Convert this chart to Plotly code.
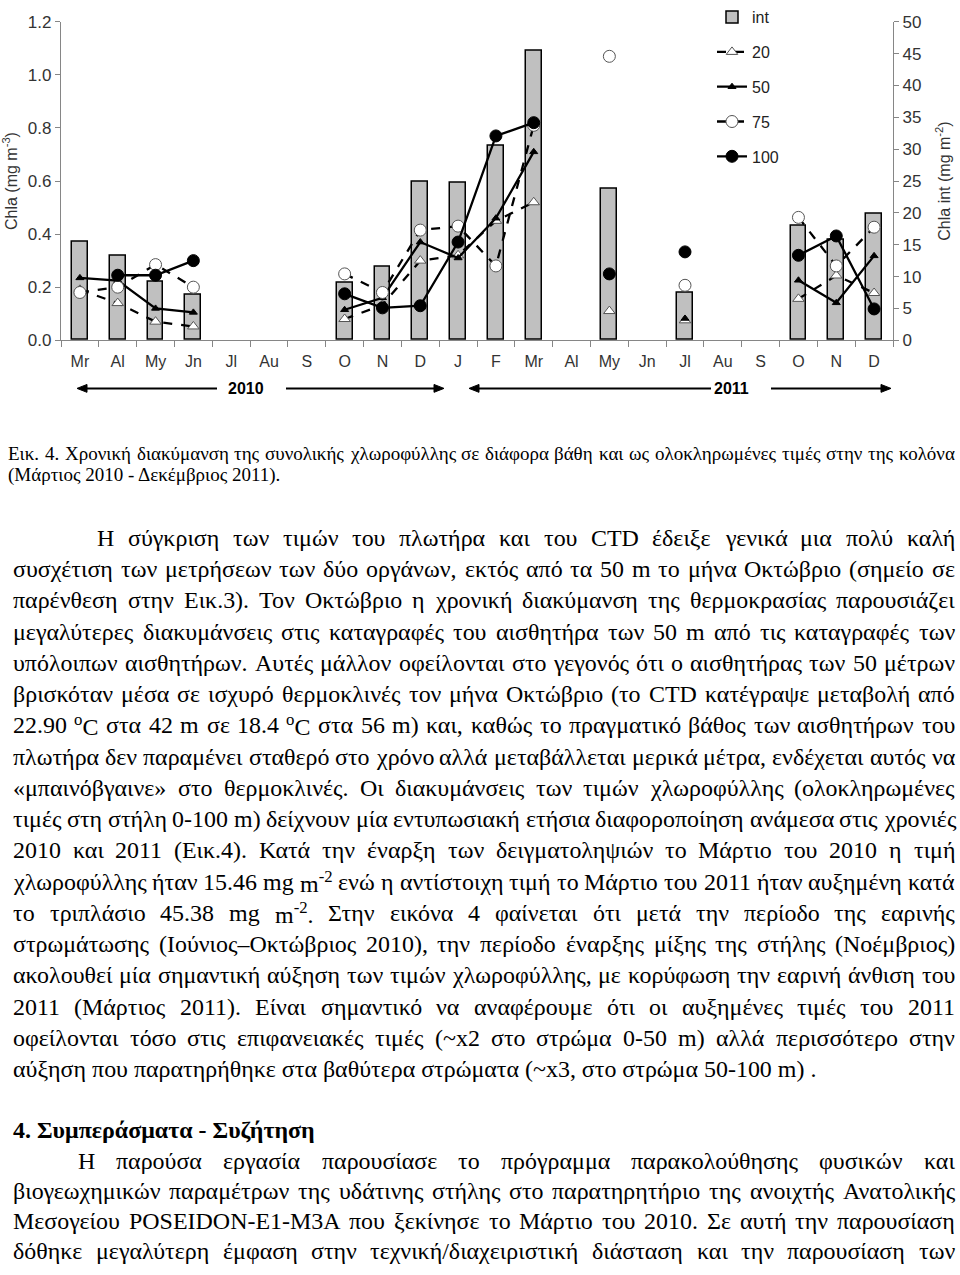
import glob
import re
import plotly.graph_objects as go

# ---------------- data ----------------
months = ["Mr", "Al", "My", "Jn", "Jl", "Au", "S", "O", "N", "D", "J", "F",
          "Mr", "Al", "My", "Jn", "Jl", "Au", "S", "O", "N", "D"]
# integrated chlorophyll (mg m-2), right axis
chla_int = [15.46, 13.3, 9.1, 7.1, None, None, None, 9.0, 11.6, 24.8, 24.7, 30.6,
            45.38, None, 23.8, None, 7.4, None, None, 17.9, 15.7, 19.9]
# chlorophyll at depth (mg m-3), left axis
chla_20 = [0.19, 0.14, 0.07, 0.052, None, None, None, 0.08, 0.133, 0.30, 0.32, 0.45,
           0.52, None, 0.11, None, 0.075, None, None, 0.156, 0.244, 0.178]
chla_50 = [0.235, 0.225, 0.12, 0.105, None, None, None, 0.115, 0.16, 0.37, 0.31, 0.46,
           0.71, None, 0.25, None, 0.082, None, None, 0.226, 0.141, 0.318]
chla_75 = [0.18, 0.20, 0.285, 0.20, None, None, None, 0.25, 0.18, 0.415, 0.43, 0.28,
           0.81, None, 1.07, None, 0.207, None, None, 0.463, 0.28, 0.426]
chla_100 = [None, 0.245, 0.245, 0.30, None, None, None, 0.175, 0.122, 0.13, 0.37, 0.77,
            0.82, None, 0.25, None, 0.333, None, None, 0.32, 0.393, 0.118]
series_names = ["20", "50", "75", "100"]
series_values = [chla_20, chla_50, chla_75, chla_100]
years = ["2010", "2011"]

caption_lines = [
    "Εικ. 4. Χρονική διακύμανση της συνολικής χλωροφύλλης σε διάφορα βάθη και ως ολοκληρωμένες τιμές στην της κολόνα",
    "(Μάρτιος 2010 - Δεκέμβριος 2011).",
]
para1_lines = [
    "Η σύγκριση των τιμών του πλωτήρα και του CTD έδειξε γενικά μια πολύ καλή",
    "συσχέτιση των μετρήσεων των δύο οργάνων, εκτός από τα 50 m το μήνα Οκτώβριο (σημείο σε",
    "παρένθεση στην Εικ.3). Τον Οκτώβριο η χρονική διακύμανση της θερμοκρασίας παρουσιάζει",
    "μεγαλύτερες διακυμάνσεις στις καταγραφές του αισθητήρα των 50 m από τις καταγραφές των",
    "υπόλοιπων αισθητήρων. Αυτές μάλλον οφείλονται στο γεγονός ότι ο αισθητήρας των 50 μέτρων",
    "βρισκόταν μέσα σε ισχυρό θερμοκλινές τον μήνα Οκτώβριο (το CTD κατέγραψε μεταβολή από",
    "22.90 <sup>o</sup>C στα 42 m σε 18.4 <sup>o</sup>C στα 56 m) και, καθώς το πραγματικό βάθος των αισθητήρων του",
    "πλωτήρα δεν παραμένει σταθερό στο χρόνο αλλά μεταβάλλεται μερικά μέτρα, ενδέχεται αυτός να",
    "«μπαινόβγαινε» στο θερμοκλινές. Οι διακυμάνσεις των τιμών χλωροφύλλης (ολοκληρωμένες",
    "τιμές στη στήλη 0-100 m) δείχνουν μία εντυπωσιακή ετήσια διαφοροποίηση ανάμεσα στις χρονιές",
    "2010 και 2011 (Εικ.4). Κατά την έναρξη των δειγματοληψιών το Μάρτιο του 2010 η τιμή",
    "χλωροφύλλης ήταν 15.46 mg m<sup>-2</sup> ενώ η αντίστοιχη τιμή το Μάρτιο του 2011 ήταν αυξημένη κατά",
    "το τριπλάσιο 45.38 mg m<sup>-2</sup>. Στην εικόνα 4 φαίνεται ότι μετά την περίοδο της εαρινής",
    "στρωμάτωσης (Ιούνιος–Οκτώβριος 2010), την περίοδο έναρξης μίξης της στήλης (Νοέμβριος)",
    "ακολουθεί μία σημαντική αύξηση των τιμών χλωροφύλλης, με κορύφωση την εαρινή άνθιση του",
    "2011 (Μάρτιος 2011). Είναι σημαντικό να αναφέρουμε ότι οι αυξημένες τιμές του 2011",
    "οφείλονται τόσο στις επιφανειακές τιμές (~x2 στο στρώμα 0-50 m) αλλά περισσότερο στην",
    "αύξηση που παρατηρήθηκε στα βαθύτερα στρώματα (~x3, στο στρώμα 50-100 m) .",
]
heading = "4. Συμπεράσματα - Συζήτηση"
para2_lines = [
    "Η παρούσα εργασία παρουσίασε το πρόγραμμα παρακολούθησης φυσικών και",
    "βιογεωχημικών παραμέτρων της υδάτινης στήλης στο παρατηρητήριο της ανοιχτής Ανατολικής",
    "Μεσογείου POSEIDON-E1-M3A που ξεκίνησε το Μάρτιο του 2010. Σε αυτή την παρουσίαση",
    "δόθηκε μεγαλύτερη έμφαση στην τεχνική/διαχειριστική διάσταση και την παρουσίαση των",
]

# ---------------- layout helpers ----------------
W, H = 960, 1275


def px(x):
    return x / W


def py(y):
    return 1 - y / H


styles = {
    "20": dict(dash="dash", symbol="triangle-up", fill="white", size=10),
    "50": dict(dash="solid", symbol="triangle-up", fill="black", size=7),
    "75": dict(dash="dash", symbol="circle", fill="white", size=12),
    "100": dict(dash="solid", symbol="circle", fill="black", size=12),
}

AXC = "#868686"
TXC = "#333333"
SANS = "Liberation Sans, Arial, sans-serif"
SERIF = "Liberation Serif, Times New Roman, serif"

fig = go.Figure()
xs = list(range(len(months)))
fig.add_trace(go.Bar(
    x=xs, y=chla_int, name="int", yaxis="y", width=0.42, legendgroup="int",
    marker=dict(color="#c0c0c0", line=dict(color="black", width=1.5)),
))
for name, vals in zip(series_names, series_values):
    st = styles[name]
    fig.add_trace(go.Scatter(
        x=xs, y=vals, name=name, yaxis="y2", mode="lines+markers",
        legendgroup=name, connectgaps=False,
        line=dict(color="black", width=2.3, dash=st["dash"]),
        marker=dict(symbol=st["symbol"], size=st["size"], color=st["fill"],
                    line=dict(color="black" if st["fill"] == "black" else "#555", width=1)),
    ))

# ---------------- text measuring ----------------
def find_font(fname):
    for p in glob.glob("/usr/share/fonts/**/" + fname, recursive=True):
        return p
    return None


SERIF_R = find_font("LiberationSerif-Regular.ttf")
SERIF_B = find_font("LiberationSerif-Bold.ttf")

_base = None
try:
    from PIL import ImageFont
    _fr = ImageFont.truetype(SERIF_R, 100)
    _fb = ImageFont.truetype(SERIF_B, 100)

    def _base(s, bold):
        return (_fb if bold else _fr).getlength(s) / 100.0
except Exception:
    try:
        from fontTools.ttLib import TTFont

        def _mk(path):
            tt = TTFont(path)
            cmap = tt.getBestCmap()
            hm = tt["hmtx"]
            upm = tt["head"].unitsPerEm

            def f(s):
                tot = 0
                for c in s:
                    g = cmap.get(ord(c), ".notdef")
                    tot += hm[g][0]
                return tot / upm
            return f
        _fr2 = _mk(SERIF_R)
        _fb2 = _mk(SERIF_B)

        def _base(s, bold):
            return (_fb2 if bold else _fr2)(s)
    except Exception:
        _base = None


def measure(s, size, bold=False):
    parts = re.split(r"(<sup>.*?</sup>)", s)
    tot = 0.0
    for p in parts:
        if p.startswith("<sup>"):
            tot += _base(p[5:-6], bold) * size * 0.7
        elif p:
            tot += _base(p, bold) * size
    return tot


annotations = []


def add_line(text, y, left, right, size, justify=True, bold=False):
    words = text.split(" ")
    wrapf = (lambda t: "<b>" + t + "</b>") if bold else (lambda t: t)
    common = dict(xref="paper", yref="paper", xanchor="left", yanchor="middle",
                  showarrow=False, borderpad=0, borderwidth=0,
                  font=dict(family=SERIF, size=size, color="black"))
    if _base is None or not justify or len(words) < 2:
        annotations.append(dict(text=wrapf(text), x=px(left), y=py(y), **common))
        return
    widths = [measure(w, size, bold) for w in words]
    gap = (right - left - sum(widths)) / (len(words) - 1)
    pos = left
    for w, wd in zip(words, widths):
        annotations.append(dict(text=wrapf(w), x=px(pos), y=py(y), **common))
        pos += wd + gap


# paragraph font size from the natural width of the last (unjustified) line
if _base is not None:
    PSIZE = 804 / measure(para1_lines[-1], 1.0)
    CSIZE = min(19.0, 940 / measure(caption_lines[0], 1.0))
else:
    PSIZE = 22
    CSIZE = 18

LEFT, RIGHT = 13, 955
add_line(caption_lines[0], 449, 8, 955, CSIZE, justify=True)
add_line(caption_lines[1], 471, 8, 955, CSIZE, justify=False)

p1_y = [535 + i * 31.8 for i in range(len(para1_lines))]
for i, (t, y) in enumerate(zip(para1_lines, p1_y)):
    last = i == len(para1_lines) - 1
    add_line(t, y, 97 if i == 0 else LEFT, RIGHT, PSIZE, justify=not last)

add_line(heading, 1138, LEFT, RIGHT, PSIZE, justify=False, bold=True)
p2_y = [1169 + i * 30.7 for i in range(len(para2_lines))]
for i, (t, y) in enumerate(zip(para2_lines, p2_y)):
    add_line(t, y, 78 if i == 0 else LEFT, RIGHT, PSIZE, justify=True)

# year labels with arrows (arrows drawn as decorative shapes)
YR = 383
for label, xc in zip(years, [246, 731]):
    annotations.append(dict(text="<b>" + label + "</b>", x=px(xc), y=py(YR), xref="paper", yref="paper",
                            xanchor="center", yanchor="middle", showarrow=False,
                            font=dict(family=SANS, size=16, color="black")))
shapes = []
for head, tail in [(77, 217), (444, 286), (469, 711), (891, 771)]:
    d = 1 if head > tail else -1
    base_x = head - d * 10
    shapes.append(dict(type="line", xref="paper", yref="paper",
                       x0=px(tail), x1=px(base_x), y0=py(YR), y1=py(YR),
                       line=dict(color="black", width=2)))
    shapes.append(dict(type="path", xref="paper", yref="paper",
                       path="M {} {} L {} {} L {} {} Z".format(
                           px(head), py(YR), px(base_x), py(YR - 4), px(base_x), py(YR + 4)),
                       fillcolor="black", line=dict(color="black", width=1)))

fig.update_layout(
    width=W, height=H, autosize=False,
    margin=dict(l=0, r=0, t=0, b=0),
    paper_bgcolor="white", plot_bgcolor="white",
    showlegend=True,
    bargap=0,
    legend=dict(x=px(712), y=1 + 12 / H, xanchor="left", yanchor="top",
                tracegroupgap=11, bgcolor="rgba(0,0,0,0)",
                font=dict(family=SANS, size=16, color="#222")),
    xaxis=dict(domain=[px(61), px(893)], range=[-0.5, len(months) - 0.5],
               tickmode="array", tickvals=xs, ticktext=months, ticks="",
               showline=True, linecolor=AXC, linewidth=1.3, showgrid=False, zeroline=False,
               tickfont=dict(family=SANS, size=16, color=TXC), ticklabelstandoff=6,
               minor=dict(tickmode="linear", tick0=-0.5, dtick=1, ticks="outside",
                          ticklen=6, tickcolor=AXC, tickwidth=1.3, showgrid=False),
               anchor="y"),
    yaxis=dict(domain=[py(334), py(10)], range=[0, 50], dtick=5, side="right",
               showline=True, linecolor=AXC, linewidth=1.3, ticks="outside", ticklen=5,
               tickcolor=AXC, showgrid=False, zeroline=False,
               tickfont=dict(family=SANS, size=17, color=TXC),
               title=dict(text="Chla int (mg m<sup>-2</sup>)", standoff=18,
                          font=dict(family=SANS, size=16, color=TXC)),
               anchor="x"),
    yaxis2=dict(overlaying="y", range=[0, 1.2], dtick=0.2, tickformat=".1f", side="left",
                showline=True, linecolor=AXC, linewidth=1.3, ticks="outside", ticklen=5,
                tickcolor=AXC, showgrid=False, zeroline=False,
                tickfont=dict(family=SANS, size=17, color=TXC),
                title=dict(text="Chla (mg m<sup>-3</sup>)", standoff=6,
                           font=dict(family=SANS, size=16, color=TXC)),
                anchor="x"),
    annotations=annotations,
    shapes=shapes,
)

fig.write_html("out.html", config={"displayModeBar": False},
               post_script="document.body.style.margin='0px';"
                           "document.body.style.overflow='hidden';")
